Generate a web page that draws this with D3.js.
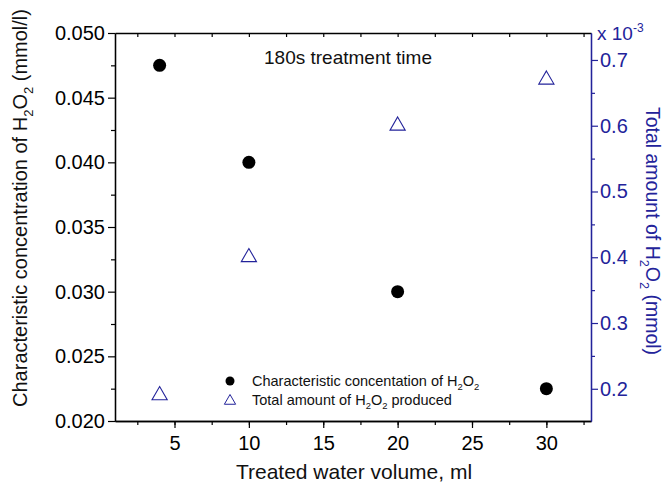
<!DOCTYPE html>
<html>
<head>
<meta charset="utf-8">
<script src="https://cdn.jsdelivr.net/npm/d3@7"></script>
<style>
  html, body { margin: 0; padding: 0; background: #fff; }
  svg { display: block; font-family: "Liberation Sans", Arial, sans-serif; }
</style>
</head>
<body>
<svg id="chart" width="667" height="491"></svg>
<script>
// Treated water volume (ml)
const volumes = [4, 10, 20, 30];
// Characteristic concentration of H2O2 (mmol/l)
const concentration = [0.0475, 0.040, 0.030, 0.0225];
// Total amount of H2O2 produced (x 10^-3 mmol)
const totalAmount = [0.19, 0.40, 0.60, 0.67];

const xTicks = [5, 10, 15, 20, 25, 30];
const yLeftTicks = [0.020, 0.025, 0.030, 0.035, 0.040, 0.045, 0.050];
const yRightTicks = [0.2, 0.3, 0.4, 0.5, 0.6, 0.7];

const blue = "#23239a";
const svg = d3.select("#chart");
const M = { left: 115, right: 591, top: 33, bottom: 421 };

const x = d3.scaleLinear().domain([1, 33]).range([M.left, M.right]);
const yL = d3.scaleLinear().domain([0.020, 0.050]).range([M.bottom, M.top]);
const yR = d3.scaleLinear().domain([0.151, 0.741]).range([M.bottom, M.top]);

const minorX = d3.range(2.5, 33, 2.5);
const minorL = d3.range(0.0225, 0.050, 0.005);
const minorR = d3.range(0.15, 0.741, 0.1).map(v => +v.toFixed(3)).filter(v => v > 0.151);

function style(g, color, fs) {
  g.select(".domain").attr("stroke", color).attr("stroke-width", 1.3);
  g.selectAll(".tick line").attr("stroke", color).attr("stroke-width", 1.2);
  g.selectAll(".tick text").attr("fill", color).style("font-size", fs + "px")
    .style("font-family", "'Liberation Sans', Arial, sans-serif");
}

// Bottom axis: minor then major
svg.append("g").attr("transform", `translate(0,${M.bottom})`)
  .call(d3.axisBottom(x).tickValues(minorX).tickSize(4).tickFormat("").tickSizeOuter(0))
  .call(g => style(g, "#000", 20));
svg.append("g").attr("transform", `translate(0,${M.bottom})`)
  .call(d3.axisBottom(x).tickValues(xTicks).tickSize(7).tickPadding(8).tickFormat(d3.format("d")).tickSizeOuter(0))
  .call(g => style(g, "#000", 20));

// Top axis: inward ticks, no labels
svg.append("g").attr("transform", `translate(0,${M.top})`)
  .call(d3.axisBottom(x).tickValues(minorX).tickSize(4).tickFormat("").tickSizeOuter(0))
  .call(g => style(g, "#000", 20));

// Left axis
svg.append("g").attr("transform", `translate(${M.left},0)`)
  .call(d3.axisLeft(yL).tickValues(minorL).tickSize(4).tickFormat("").tickSizeOuter(0))
  .call(g => style(g, "#000", 20));
svg.append("g").attr("transform", `translate(${M.left},0)`)
  .call(d3.axisLeft(yL).tickValues(yLeftTicks).tickSize(7).tickPadding(3).tickFormat(d3.format(".3f")).tickSizeOuter(0))
  .call(g => style(g, "#000", 20));

// Right axis
svg.append("g").attr("transform", `translate(${M.right},0)`)
  .call(d3.axisRight(yR).tickValues(minorR).tickSize(4).tickFormat("").tickSizeOuter(0))
  .call(g => style(g, blue, 20));
svg.append("g").attr("transform", `translate(${M.right},0)`)
  .call(d3.axisRight(yR).tickValues(yRightTicks).tickSize(7).tickPadding(2).tickFormat(d3.format(".1f")).tickSizeOuter(0))
  .call(g => style(g, blue, 20));

// Right axis exponent label
const ex = svg.append("text").attr("x", M.right + 6).attr("y", M.top + 7)
  .attr("fill", blue).style("font-size", "19px");
ex.append("tspan").text("x 10");
ex.append("tspan").attr("dy", -8).style("font-size", "12px").text("-3");

// Axis titles
function h2o2(sel, before, after, fs) {
  sel.append("tspan").text(before + "H");
  sel.append("tspan").attr("dy", fs * 0.3).style("font-size", (fs * 0.65) + "px").text("2");
  sel.append("tspan").attr("dy", -fs * 0.3).text("O");
  sel.append("tspan").attr("dy", fs * 0.3).style("font-size", (fs * 0.65) + "px").text("2");
  sel.append("tspan").attr("dy", -fs * 0.3).text(after);
}

svg.append("text").attr("x", 354).attr("y", 479)
  .attr("text-anchor", "middle").style("font-size", "21px").attr("fill", "#111")
  .text("Treated water volume, ml");

const lt = svg.append("text").attr("transform", "translate(27,208) rotate(-90)")
  .attr("text-anchor", "middle").style("font-size", "20px").attr("fill", "#111");
h2o2(lt, "Characteristic concentration of ", " (mmol/l)", 20);

const rt = svg.append("text").attr("transform", "translate(646,231) rotate(90)")
  .attr("text-anchor", "middle").style("font-size", "19.5px").attr("fill", blue);
h2o2(rt, "Total amount of ", " (mmol)", 19.5);

// Panel annotation
svg.append("text").attr("x", 348).attr("y", 64).attr("text-anchor", "middle")
  .style("font-size", "19px").attr("fill", "#111").text("180s treatment time");

// Concentration points
svg.append("g").selectAll("circle").data(volumes).join("circle")
  .attr("cx", d => x(d)).attr("cy", (d, i) => yL(concentration[i]))
  .attr("r", 6.5).attr("fill", "#000");

// Total amount points
const tri = d3.symbol().type(d3.symbolTriangle).size(100);
svg.append("g").selectAll("path").data(volumes).join("path")
  .attr("d", tri)
  .attr("transform", (d, i) => `translate(${x(d)},${yR(totalAmount[i])})`)
  .attr("fill", "none").attr("stroke", blue).attr("stroke-width", 1.1);

// Legend
const lg = svg.append("g").style("font-size", "14.5px").attr("fill", "#111");
lg.append("circle").attr("cx", 230).attr("cy", 381).attr("r", 4.5).attr("fill", "#000");
const l1 = lg.append("text").attr("x", 252).attr("y", 386);
h2o2(l1, "Characteristic concentation of ", "", 14.5);
lg.append("path").attr("d", d3.symbol().type(d3.symbolTriangle).size(55))
  .attr("transform", "translate(230,401)").attr("fill", "none").attr("stroke", blue);
const l2 = lg.append("text").attr("x", 252).attr("y", 405);
h2o2(l2, "Total amount of ", " produced", 14.5);
</script>
</body>
</html>
